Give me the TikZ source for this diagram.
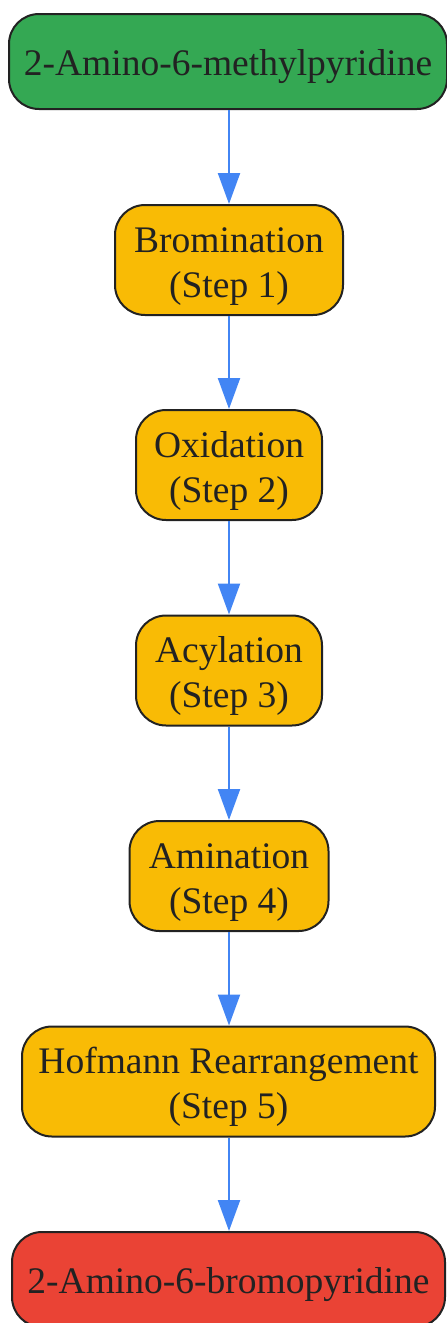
\documentclass[tikz,border=0pt]{standalone}
\usepackage{fontspec}
\setmainfont{Liberation Serif}
\usetikzlibrary{arrows.meta}
\definecolor{cgreen}{HTML}{34A853}
\definecolor{cyellow}{HTML}{F9BB05}
\definecolor{cred}{HTML}{EA4335}
\definecolor{cblue}{HTML}{4285F4}
\definecolor{cborder}{HTML}{222222}
\newcommand\topstrut{\rule{0pt}{37pt}}
\begin{document}
\begin{tikzpicture}[x=1pt,y=-1pt,
  box/.style={draw=cborder, line width=2pt, rounded corners=30pt, align=center,
    inner sep=0pt, text=cborder, font=\fontsize{37.5}{45}\selectfont},
  arr/.style={draw=cblue, line width=2.2pt, -{Triangle[length=31pt,width=22pt]}}]
\useasboundingbox (0,0) rectangle (447,1323);
\node[box, fill=cgreen, minimum width=438pt, minimum height=95pt] (n1) at (228,61.5) {\topstrut 2-Amino-6-methylpyridine};
\node[box, fill=cyellow, minimum width=228pt, minimum height=110pt] (n2) at (229,260) {\topstrut Bromination\\(Step 1)};
\node[box, fill=cyellow, minimum width=186pt, minimum height=110pt] (n3) at (229,465) {\topstrut Oxidation\\(Step 2)};
\node[box, fill=cyellow, minimum width=186pt, minimum height=110pt] (n4) at (229,670.5) {\topstrut Acylation\\(Step 3)};
\node[box, fill=cyellow, minimum width=199pt, minimum height=110pt] (n5) at (229,876) {\topstrut Amination\\(Step 4)};
\node[box, fill=cyellow, minimum width=413pt, minimum height=110pt] (n6) at (228.5,1081.5) {\topstrut Hofmann Rearrangement\\(Step 5)};
\node[box, fill=cred, minimum width=433pt, minimum height=95pt] (n7) at (228.5,1279.5) {\topstrut 2-Amino-6-bromopyridine};
\draw[arr] (n1.south -| n2.north) -- (n2.north);
\draw[arr] (n2) -- (n3);
\draw[arr] (n3) -- (n4);
\draw[arr] (n4) -- (n5);
\draw[arr] (n5.south) -- (n5.south |- n6.north);
\draw[arr] (n6.south -| n5.south) -- (n5.south |- n7.north);
\end{tikzpicture}
\end{document}
